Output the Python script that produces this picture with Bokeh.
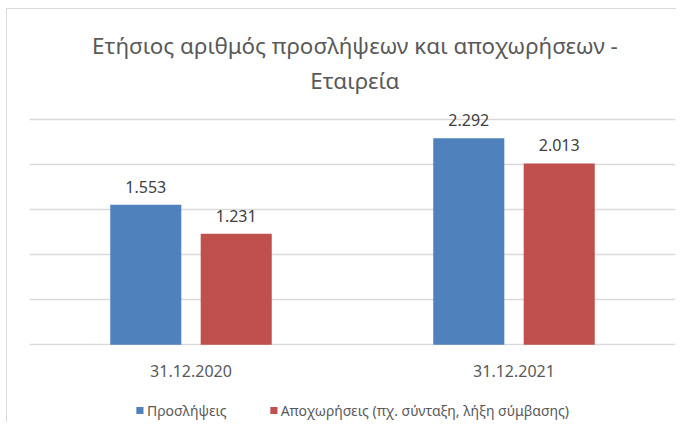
from bokeh.plotting import figure
from bokeh.models import FactorRange, Range1d, FixedTicker, ColumnDataSource, Legend, LegendItem
from bokeh.layouts import column
from bokeh.core.properties import value
from bokeh.transform import dodge
from bokeh.embed import file_html
from bokeh.resources import INLINE

title_lines = ["Ετήσιος αριθμός προσλήψεων και αποχωρήσεων -", "Εταιρεία"]
categories = ["31.12.2020", "31.12.2021"]
hires = [1553, 2292]
departures = [1231, 2013]
series_names = ["Προσλήψεις", "Αποχωρήσεις (πχ. σύνταξη, λήξη σύμβασης)"]
y_ticks = [0, 500, 1000, 1500, 2000, 2500]

FONT = "Noto Sans"
BLUE = "#4f81bd"
RED = "#c0504d"
TXT = "#595959"
W = 669

def fmt(v):
    return f"{v:,}".replace(",", ".")

src = ColumnDataSource(dict(
    cat=categories,
    hires=hires,
    dep=departures,
    hires_lbl=[fmt(v) for v in hires],
    dep_lbl=[fmt(v) for v in departures],
))

# ---- title strip ----
tf = figure(width=W, height=91, x_range=Range1d(0, W), y_range=Range1d(91, 0),
            output_backend="svg", toolbar_location=None,
            min_border_left=0, min_border_right=0, min_border_top=0, min_border_bottom=0)
tf.axis.visible = False
tf.grid.visible = False
tf.outline_line_color = None
tf.text(x=[337, 337], y=[36, 71], text=title_lines, text_align="center", text_baseline="middle",
        text_font=value(FONT), text_font_size="22.4px", text_color=TXT)

# ---- main chart ----
p = figure(width=W, height=290, x_range=FactorRange(factors=categories, range_padding=0),
           y_range=Range1d(-8, 2711), output_backend="svg", toolbar_location=None,
           min_border_left=22, min_border_right=1, min_border_top=0, min_border_bottom=45)

p.vbar(x=dodge("cat", -0.14, range=p.x_range), top="hires", width=0.22, source=src,
       fill_color=BLUE, line_color=None)
p.vbar(x=dodge("cat", 0.14, range=p.x_range), top="dep", width=0.22, source=src,
       fill_color=RED, line_color=None)

p.text(x=dodge("cat", -0.14, range=p.x_range), y="hires", text="hires_lbl", source=src,
       text_align="center", text_baseline="middle", y_offset=-18,
       text_font=value(FONT), text_font_size="16px", text_color="#404040")
p.text(x=dodge("cat", 0.14, range=p.x_range), y="dep", text="dep_lbl", source=src,
       text_align="center", text_baseline="middle", y_offset=-18,
       text_font=value(FONT), text_font_size="16px", text_color="#404040")

p.yaxis.visible = False
p.ygrid.ticker = FixedTicker(ticks=y_ticks)
p.ygrid.grid_line_color = "#d9d9d9"
p.ygrid.grid_line_width = 1.5
p.xgrid.grid_line_color = None
p.outline_line_color = None

p.xaxis.axis_line_color = None
p.xaxis.major_tick_line_color = None
p.xaxis.minor_tick_line_color = None
p.xaxis.major_label_standoff = 13
p.xaxis.major_label_text_font = FONT
p.xaxis.major_label_text_font_size = "16px"
p.xaxis.major_label_text_color = TXT

# ---- legend strip: same bars drawn out of view, used only as legend proxies ----
lg = figure(width=W, height=32, x_range=FactorRange(factors=categories),
            y_range=Range1d(10000, 10001), output_backend="svg", toolbar_location=None,
            min_border_left=0, min_border_right=0, min_border_top=8, min_border_bottom=0)
lg.axis.visible = False
lg.grid.visible = False
lg.outline_line_color = None
d1 = lg.vbar(x=dodge("cat", -0.14, range=lg.x_range), top="hires", width=0.22, source=src,
             fill_color=BLUE, line_color=None)
d2 = lg.vbar(x=dodge("cat", 0.14, range=lg.x_range), top="dep", width=0.22, source=src,
             fill_color=RED, line_color=None)
legend = Legend(items=[LegendItem(label=series_names[0], renderers=[d1]),
                       LegendItem(label=series_names[1], renderers=[d2])],
                orientation="horizontal", location="center",
                glyph_width=9, glyph_height=9, spacing=42, label_standoff=3,
                label_text_font=FONT, label_text_font_size="14px", label_text_color=TXT,
                border_line_color=None, background_fill_alpha=0, margin=0, padding=0)
lg.add_layout(legend, "center")

layout = column(tf, p, lg, spacing=0, margin=(8, 0, 0, 6),
                styles={"border-left": "1px solid #d9d9d9", "border-top": "1px solid #d9d9d9"})

open("out.html", "w").write(file_html(layout, INLINE))
